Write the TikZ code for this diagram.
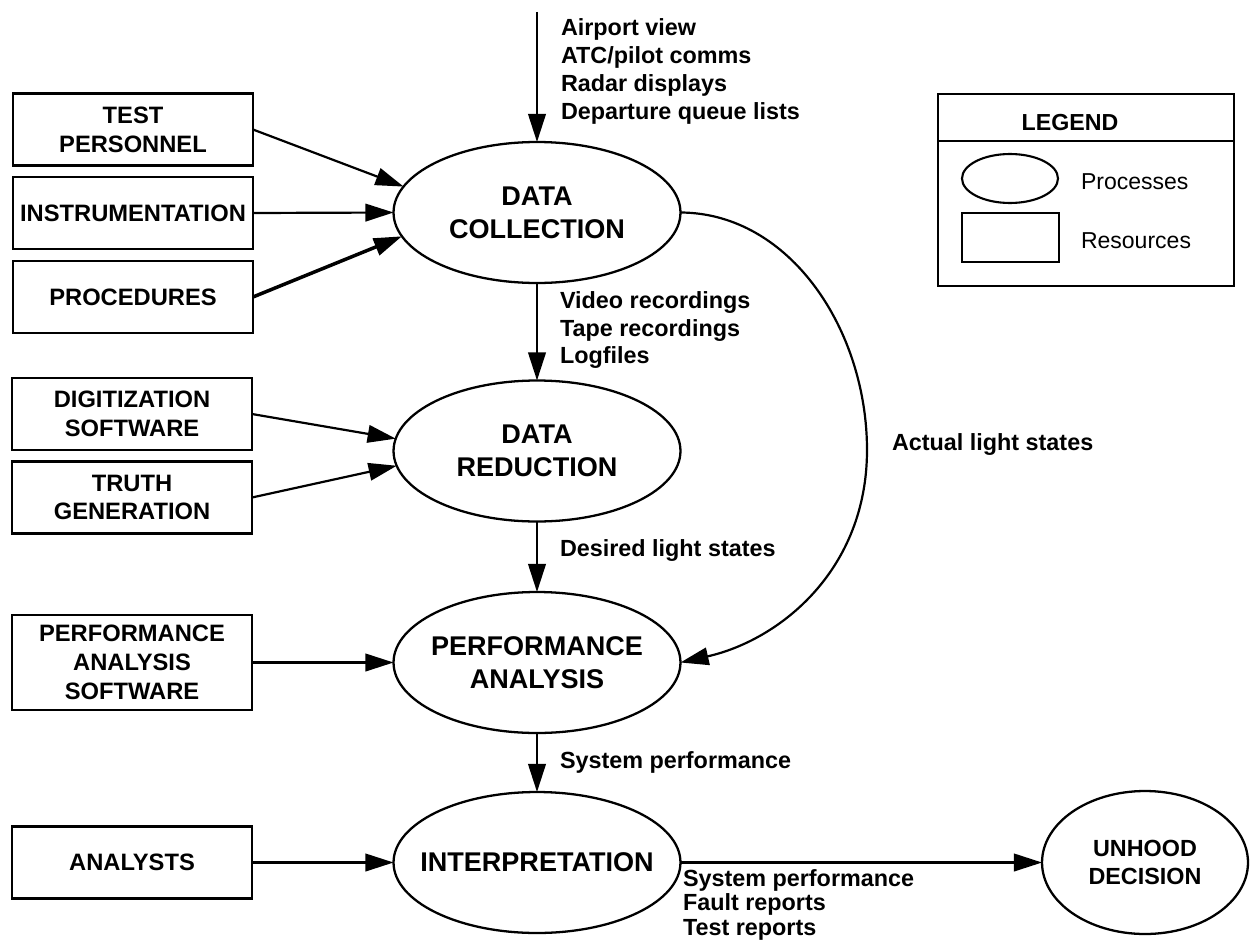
\documentclass[tikz,border=0pt]{standalone}
\usepackage{fontspec}
\setmainfont{Liberation Sans}
\usetikzlibrary{arrows.meta,shapes.geometric}
\begin{document}
\begin{tikzpicture}[x=0.02cm,y=-0.02cm,
  plain/.style={inner sep=0pt, outer sep=0pt, align=center},
  resource/.style={plain, draw, line width=1.3pt, minimum width=4.8cm, minimum height=1.44cm,
    font=\bfseries\fontsize{13.5}{16.4}\selectfont},
  process/.style={plain, draw, ellipse, line width=1.3pt, minimum width=5.74cm, minimum height=2.82cm},
  ptext/.style={plain, font=\bfseries\fontsize{15.4}{18.7}\selectfont},
  stext/.style={plain, font=\bfseries\fontsize{13.3}{16.4}\selectfont},
  flow/.style={line width=1.25pt, -{Triangle[length=16pt,width=10pt]}},
  flowlabel/.style={plain, anchor=north west, align=left, font=\bfseries\fontsize{13.3}{16}\selectfont},
]
\fill[white] (0,0) rectangle (1250,946);
\useasboundingbox (0,0) rectangle (1250,946);

% processes
\node[process, label={[ptext]center:{DATA\\COLLECTION}}] (dc) at (537,212.5) {};
\node[process, label={[ptext]center:{DATA\\REDUCTION}}] (dr) at (537,451) {};
\node[process, label={[ptext]center:{PERFORMANCE\\ANALYSIS}}] (pa) at (537,662.5) {};
\node[process, label={[ptext]center:{INTERPRETATION}}] (ip) at (537,862.5) {};
\node[process, minimum width=4.12cm, minimum height=2.86cm,
      label={[stext]center:{UNHOOD\\DECISION}}] (uh) at (1145,862.5) {};

% resources
\node[resource] (tp) at (133,129.5) {TEST\\PERSONNEL};
\node[resource] (ins) at (133,213) {INSTRUMENTATION};
\node[resource] (proc) at (133,297) {PROCEDURES};
\node[resource] (dig) at (132,414) {DIGITIZATION\\SOFTWARE};
\node[resource] (tg) at (132,497.5) {TRUTH\\GENERATION};
\node[resource, minimum height=1.9cm] (pas) at (132,662.5) {PERFORMANCE\\ANALYSIS\\SOFTWARE};
\node[resource] (an) at (132,862.5) {ANALYSTS};

% inputs to the processes
\coordinate (src) at (537,12);
\draw[flow] (src) -- (dc.north);
\draw[flow] (tp.east) -- (dc.169);
\draw[flow] (ins.east) -- (dc.west);
\draw[flow, line width=2pt] (proc.east) -- (dc.190);
\draw[flow] (dig.east) -- (dr.175);
\draw[flow] (tg.east) -- (dr.186);
\draw[flow] (pas.east) -- (pa.west);
\draw[flow] (an.east) -- (ip.west);

% data flow between the processes
\draw[flow] (dc.south) -- (dr.north);
\draw[flow] (dr.south) -- (pa.north);
\draw[flow] (pa.south) -- (ip.north);
\draw[flow] (ip.east) -- (uh.west);
\coordinate (al) at (867,450);
\draw[flow] (dc.east) .. controls (790,213) and (867,330) .. (al)
                      .. controls (867,570) and (780,640) .. (pa.east);

% flow labels
\node[flowlabel] (l1) at (561,18.6) {Airport view\\ATC/pilot comms\\Radar displays\\Departure queue lists};
\node[flowlabel, font=\bfseries\fontsize{13.3}{15.7}\selectfont] (l2) at (560,291.6) {Video recordings\\Tape recordings\\Logfiles};
\node[flowlabel] (l3) at (560,539.6) {Desired light states};
\node[flowlabel] (l4) at (892,433.6) {Actual light states};
\node[flowlabel] (l5) at (560,751.6) {System performance};
\node[flowlabel, font=\bfseries\fontsize{13.3}{13.9}\selectfont] (l6) at (683,869.6) {System performance\\Fault reports\\Test reports};

% legend
\node[plain, draw, line width=1.3pt, minimum width=5.92cm, minimum height=3.84cm] (lg) at (1086,190) {};
\draw[line width=1.3pt] (lg.west |- 0,141) -- (lg.east |- 0,141);
\node[plain, font=\bfseries\fontsize{13.2}{16}\selectfont] (lgt) at (1070,123) {LEGEND};
\node[plain, draw, ellipse, line width=1.2pt, minimum width=1.92cm, minimum height=0.98cm] (lge) at (1010,178.5) {};
\node[plain, draw, line width=1.2pt, minimum width=1.94cm, minimum height=0.98cm] (lgr) at (1010.5,237.5) {};
\node[plain, anchor=west, font=\fontsize{13.1}{16}\selectfont] (lgp) at (1081,182) {Processes};
\node[plain, anchor=west, font=\fontsize{13.1}{16}\selectfont] (lgs) at (1081,241) {Resources};
\end{tikzpicture}
\end{document}
